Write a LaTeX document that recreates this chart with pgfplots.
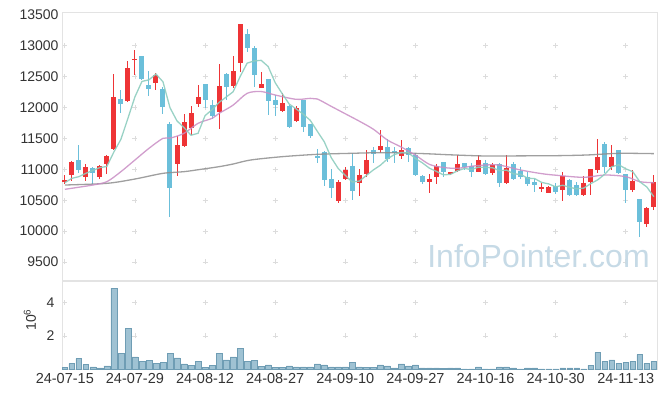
\documentclass[border=0pt]{standalone}
\usepackage{pgfplots}
\pgfplotsset{compat=1.18}
\usepackage{pgfplotstable}
\usepackage{fontspec}
\setmainfont{Liberation Sans}
\definecolor{upred}{HTML}{EE3436}
\definecolor{dnblue}{HTML}{6BBFDA}
\definecolor{ma5c}{HTML}{8ECDBF}
\definecolor{ma20c}{HTML}{C98DC4}
\definecolor{malc}{HTML}{8E8E8E}
\definecolor{volfill}{HTML}{9FC2D3}
\definecolor{voldraw}{HTML}{6F9DB4}
\definecolor{framec}{HTML}{E3E3E3}
\definecolor{gridc}{HTML}{DCDCDC}
\definecolor{txtc}{HTML}{333333}
\definecolor{wmc}{HTML}{C6DAE6}

\pgfplotstableread{
i O H L C
0 10800 10900 10760 10820
1 10900 11140 10810 11120
3 10880 11080 10810 11040
5 10880 11070 10840 11050
6 11090 11230 10920 11210
7 11330 12540 11310 12170
9 12100 12750 12090 12640
10 12770 12940 12530 12790
13 12400 12560 12280 12530
16 11080 11540 10890 11390
17 11380 11890 11360 11760
18 11670 12030 11560 11910
19 12060 12360 12010 12170
22 11930 12700 11650 12350
24 12350 12830 12320 12600
25 12730 13350 12580 13350
28 12320 12580 12320 12390
31 11950 12240 11930 12070
33 11790 12020 11760 11990
39 10490 10830 10450 10800
40 10850 11030 10820 10990
42 10780 11000 10560 10910
43 10920 11310 10880 11150
45 11310 11630 11260 11370
48 11220 11480 11160 11310
52 10800 10920 10610 10840
53 10880 11080 10760 11050
55 10920 10960 10910 10950
56 10980 11230 10950 11090
59 10960 11230 10950 11150
61 10940 11110 10900 11070
63 10780 11230 10760 11020
68 10680 10780 10630 10710
69 10620 10730 10610 10720
71 10670 10950 10490 10890
74 10580 10890 10570 10780
75 10800 11010 10590 11000
76 10990 11490 10940 11200
78 11040 11390 10990 11200
81 10670 10990 10640 10810
83 10110 10390 10060 10370
84 10390 10900 10340 10800
}\upT

\pgfplotstableread{
i O H L C
2 11150 11390 10940 10990
4 11020 11040 10760 10940
8 12140 12280 11910 12060
11 12840 12840 12440 12460
12 12370 12590 12190 12300
14 12300 12340 11890 12010
15 11740 11760 10220 10690
20 12380 12390 12000 12120
21 12040 12120 11810 11870
23 12540 12560 12120 12340
26 13200 13280 12900 12960
27 12960 13000 12340 12530
29 12460 12460 11880 12100
30 12130 12200 11870 12040
32 12030 12040 11680 11690
34 12120 12130 11600 11680
35 11730 11740 11500 11540
36 11210 11330 11100 11190
37 11280 11290 10730 10830
38 10840 11000 10530 10700
41 11060 11260 10510 10650
44 11310 11360 11100 11250
46 11360 11490 11120 11160
47 11290 11360 11110 11270
49 11340 11360 11120 11230
50 11230 11260 10890 10910
51 10890 10900 10760 10800
54 11120 11120 10870 10950
57 11110 11110 10990 11030
58 11050 11100 10870 10960
60 11100 11150 10900 10920
62 11080 11100 10710 10780
64 11080 11120 10820 10840
65 10980 11030 10850 10880
66 10880 10950 10730 10760
67 10790 10850 10630 10750
70 10730 10780 10600 10640
72 10820 10840 10560 10580
73 10750 10800 10570 10590
77 11410 11450 10940 11030
79 11310 11320 10920 10940
80 10920 10930 10460 10670
82 10520 10520 9900 10150
}\dnT

\pgfplotstableread{
i v
0 10783
1 10854
2 10881
3 10935
4 10982
5 11028
6 11046
7 11282
8 11486
9 11826
10 12174
11 12424
12 12450
13 12544
14 12418
15 11998
16 11784
17 11676
18 11552
19 11584
20 11870
21 11966
22 12084
23 12170
24 12256
25 12502
26 12720
27 12756
28 12766
29 12666
30 12404
31 12226
32 12058
33 11978
34 11894
35 11794
36 11618
37 11446
38 11188
39 11012
40 10902
41 10794
42 10810
43 10900
44 10990
45 11066
46 11168
47 11240
48 11272
49 11268
50 11176
51 11104
52 11018
53 10966
54 10910
55 10918
56 10976
57 11014
58 10996
59 11036
60 11030
61 11026
62 10976
63 10988
64 10926
65 10918
66 10856
67 10850
68 10788
69 10764
70 10716
71 10742
72 10708
73 10684
74 10696
75 10768
76 10830
77 10920
78 11042
79 11074
80 11008
81 10962
82 10798
83 10714
84 10556
}\maA

\pgfplotstableread{
i v
0 10676
2 10710
4 10746
6 10800
8 10962
10 11151
12 11340
14 11502
15 11505
17 11583
19 11745
21 11826
22 11907
24 12040
26 12231
28 12260
30 12204
33 12134
35 12150
36 12140
38 12020
40 11900
42 11780
44 11650
46 11475
48 11360
50 11230
52 11080
54 11030
56 11016
58 11050
60 11070
62 11068
65 10989
68 10930
70 10905
74 10870
77 10908
80 10881
82 10800
84 10783
}\maB

\pgfplotstableread{
i v
0 10746
6 10773
10 10843
14 10935
17 10962
19.4 11000
22 11043
24 11086
26.5 11151
31 11205
36 11243
40.7 11259
45.5 11270
51 11255
55 11235
60 11216
65 11218
70 11221
74.4 11232
79 11259
84 11254
}\maC

\pgfplotstableread{
i v
0 0.12
1 0.35
2 0.65
3 0.29
4 0.16
5 0.10
6 0.22
7 4.85
8 0.94
9 2.45
10 0.76
11 0.48
12 0.54
13 0.36
14 0.42
15 0.94
16 0.70
17 0.34
18 0.24
19 0.48
20 0.12
21 0.24
22 0.94
23 0.58
24 0.76
25 1.24
26 0.48
27 0.54
28 0.18
29 0.28
30 0.12
31 0.12
32 0.22
33 0.16
34 0.16
35 0.16
36 0.34
37 0.28
38 0.16
39 0.16
40 0.16
41 0.42
42 0.16
43 0.12
44 0.12
45 0.28
46 0.22
47 0.10
48 0.34
49 0.22
50 0.28
51 0.10
52 0.10
53 0.10
54 0.06
55 0.10
56 0.10
57 0.04
58 0.04
59 0.16
60 0.04
61 0.04
62 0.16
63 0.16
64 0.10
65 0.04
66 0.10
67 0.10
68 0.04
69 0.04
70 0.04
71 0.10
72 0.10
73 0.10
74 0.04
75 0.24
76 1.00
77 0.48
78 0.58
79 0.36
80 0.42
81 0.48
82 0.88
83 0.36
84 0.48
}\volT

\pgfplotsset{
  base/.style={
    scale only axis, width=595pt,
    xmin=-0.4, xmax=84.45,
    axis line style={framec, line width=0.8pt},
    tick style={draw=none},
    xtick={0,10,...,80},
    scaled ticks=false,
    ticklabel style={font=\fontsize{14}{15}\selectfont, text=txtc},
    /pgf/number format/assume math mode=true,
    /pgf/number format/1000 sep={},
  },
  wick/.style={draw=none, mark=none,
    error bars/.cd, y dir=both, y explicit, error mark=none,
    error bar style={draw=#1, line width=1pt, line cap=butt}},
  body/.style={draw=none, mark=none,
    error bars/.cd, y dir=both, y explicit, error mark=none,
    error bar style={draw=#1, line width=5pt, line cap=butt}},
}

\begin{document}
\begin{tikzpicture}[x=1pt,y=1pt]
\useasboundingbox (0,0) rectangle (665,398);
% faint grid crosses (background decoration)
\foreach \gx in {0,10,...,80} {
  \pgfmathsetmacro\px{62+(\gx+0.4)*7.0124}
  \foreach \gk in {0,1,...,7} {
    \pgfmathsetmacro\py{118+18.09+\gk*30.862}
    \draw[gridc, line width=0.8pt] (\px-2.5,\py) -- (\px+2.5,\py) (\px,\py-2.5) -- (\px,\py+2.5);
  }
  \foreach \gy in {2,4} {
    \pgfmathsetmacro\py{28.5+\gy*16.761}
    \draw[gridc, line width=0.8pt] (\px-2.5,\py) -- (\px+2.5,\py) (\px,\py-2.5) -- (\px,\py+2.5);
  }
}
\node[font=\fontsize{32}{34}\selectfont, text=wmc, anchor=base] at (538.5,130) {InfoPointer.com};

\begin{axis}[base,
  at={(62pt,118pt)}, anchor=south west, height=268pt,
  ymin=9207, ymax=13549,
  ytick={9500,10000,...,13500},
  xticklabels={},
]
\addplot[wick=upred] table[x=i, y=C, y error plus expr=\thisrow{H}-\thisrow{C}, y error minus expr=\thisrow{C}-\thisrow{L}] {\upT};
\addplot[wick=dnblue] table[x=i, y=C, y error plus expr=\thisrow{H}-\thisrow{C}, y error minus expr=\thisrow{C}-\thisrow{L}] {\dnT};
\addplot[body=upred] table[x=i, y expr=(\thisrow{O}+\thisrow{C})/2, y error expr=abs(\thisrow{C}-\thisrow{O})/2] {\upT};
\addplot[body=dnblue] table[x=i, y expr=(\thisrow{O}+\thisrow{C})/2, y error expr=abs(\thisrow{C}-\thisrow{O})/2] {\dnT};
\addplot[malc, line width=1.3pt, opacity=0.85, smooth, mark=none] table[x=i, y=v] {\maC};
\addplot[ma20c, line width=1.3pt, opacity=0.85, smooth, mark=none] table[x=i, y=v] {\maB};
\addplot[ma5c, line width=1.3pt, opacity=0.9, mark=none] table[x=i, y=v] {\maA};
\end{axis}

\begin{axis}[base,
  at={(62pt,28.5pt)}, anchor=south west, height=88.5pt,
  ymin=0, ymax=5.28,
  ytick={2,4},
  yticklabel style={xshift=-4pt},
  xticklabels={24-07-15,24-07-29,24-08-12,24-08-27,24-09-10,24-09-27,24-10-16,24-10-30,24-11-13},
  xticklabel style={font=\fontsize{14.5}{15}\selectfont},
  ylabel={10\textsuperscript{6}},
  every axis y label/.style={at={(axis description cs:0,0.56)}, xshift=-32pt, rotate=90, anchor=center, font=\fontsize{14}{15}\selectfont, text=txtc},
]
\addplot[ybar, bar width=5.8pt, fill=volfill, draw=voldraw, line width=0.5pt] table[x=i, y=v] {\volT};
\end{axis}
\end{tikzpicture}
\end{document}
